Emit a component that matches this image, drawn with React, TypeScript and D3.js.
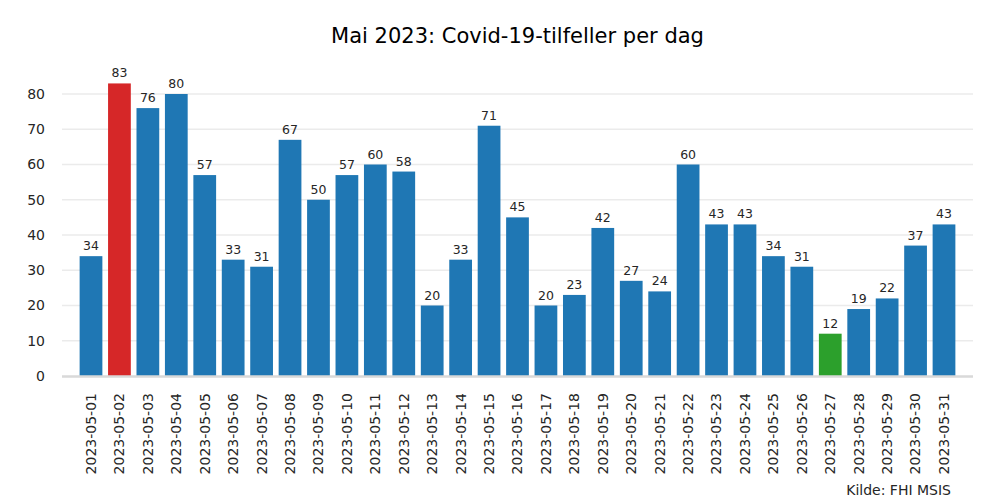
import React from "react";
import * as d3 from "d3";

const dates = [
  "2023-05-01","2023-05-02","2023-05-03","2023-05-04","2023-05-05","2023-05-06","2023-05-07",
  "2023-05-08","2023-05-09","2023-05-10","2023-05-11","2023-05-12","2023-05-13","2023-05-14",
  "2023-05-15","2023-05-16","2023-05-17","2023-05-18","2023-05-19","2023-05-20","2023-05-21",
  "2023-05-22","2023-05-23","2023-05-24","2023-05-25","2023-05-26","2023-05-27","2023-05-28",
  "2023-05-29","2023-05-30","2023-05-31",
];
const cases = [34,83,76,80,57,33,31,67,50,57,60,58,20,33,71,45,20,23,42,27,24,60,43,43,34,31,12,19,22,37,43];
const yTicks = [0,10,20,30,40,50,60,70,80];
const title = "Mai 2023: Covid-19-tilfeller per dag";
const source = "Kilde: FHI MSIS";

const W = 1000, H = 500;
const left = 62, right = 973, bottom = 376, top = 68.8;
const FONT = "DejaVu Sans, sans-serif";

export default function App() {
  const maxV = d3.max(cases) as number;
  const minV = d3.min(cases) as number;
  const x = d3.scaleBand<string>().domain(dates).range([left, right]).paddingInner(0.2).paddingOuter(0.62);
  const y = d3.scaleLinear().domain([0, maxV * 1.05]).range([bottom, top]);
  const color = (v: number) => (v === maxV ? "#d62728" : v === minV ? "#2ca02c" : "#1f77b4");
  return (
    <svg width={W} height={H} style={{ position: "absolute", left: 0, top: 0, background: "#fff" }} fontFamily={FONT}>
      <text x={517.5} y={43} textAnchor="middle" fontSize={21} fill="#000">{title}</text>
      {yTicks.map((t) => (
        <g key={t}>
          {t !== 0 && <line x1={left} x2={right} y1={y(t)} y2={y(t)} stroke="#ebebeb" strokeWidth={1.6} />}
          <text x={45} y={y(t)} dy="0.35em" textAnchor="end" fontSize={14} fill="#262626">{t}</text>
        </g>
      ))}
      {cases.map((v, i) => (
        <g key={dates[i]}>
          <rect x={x(dates[i])} y={y(v)} width={x.bandwidth()} height={bottom - y(v)} fill={color(v)} />
          <text x={(x(dates[i]) as number) + x.bandwidth() / 2} y={y(v) - 6} textAnchor="middle" fontSize={12.5} fill="#262626">{v}</text>
          <text
            transform={`translate(${(x(dates[i]) as number) + x.bandwidth() / 2},393) rotate(-90)`}
            textAnchor="end" dy="0.35em" fontSize={14} fill="#262626"
          >{dates[i]}</text>
        </g>
      ))}
      <line x1={left} x2={right} y1={bottom + 0.5} y2={bottom + 0.5} stroke="#d9d9d9" strokeWidth={2.5} />
      <text x={951} y={495} textAnchor="end" fontSize={14} fill="#262626">{source}</text>
    </svg>
  );
}
